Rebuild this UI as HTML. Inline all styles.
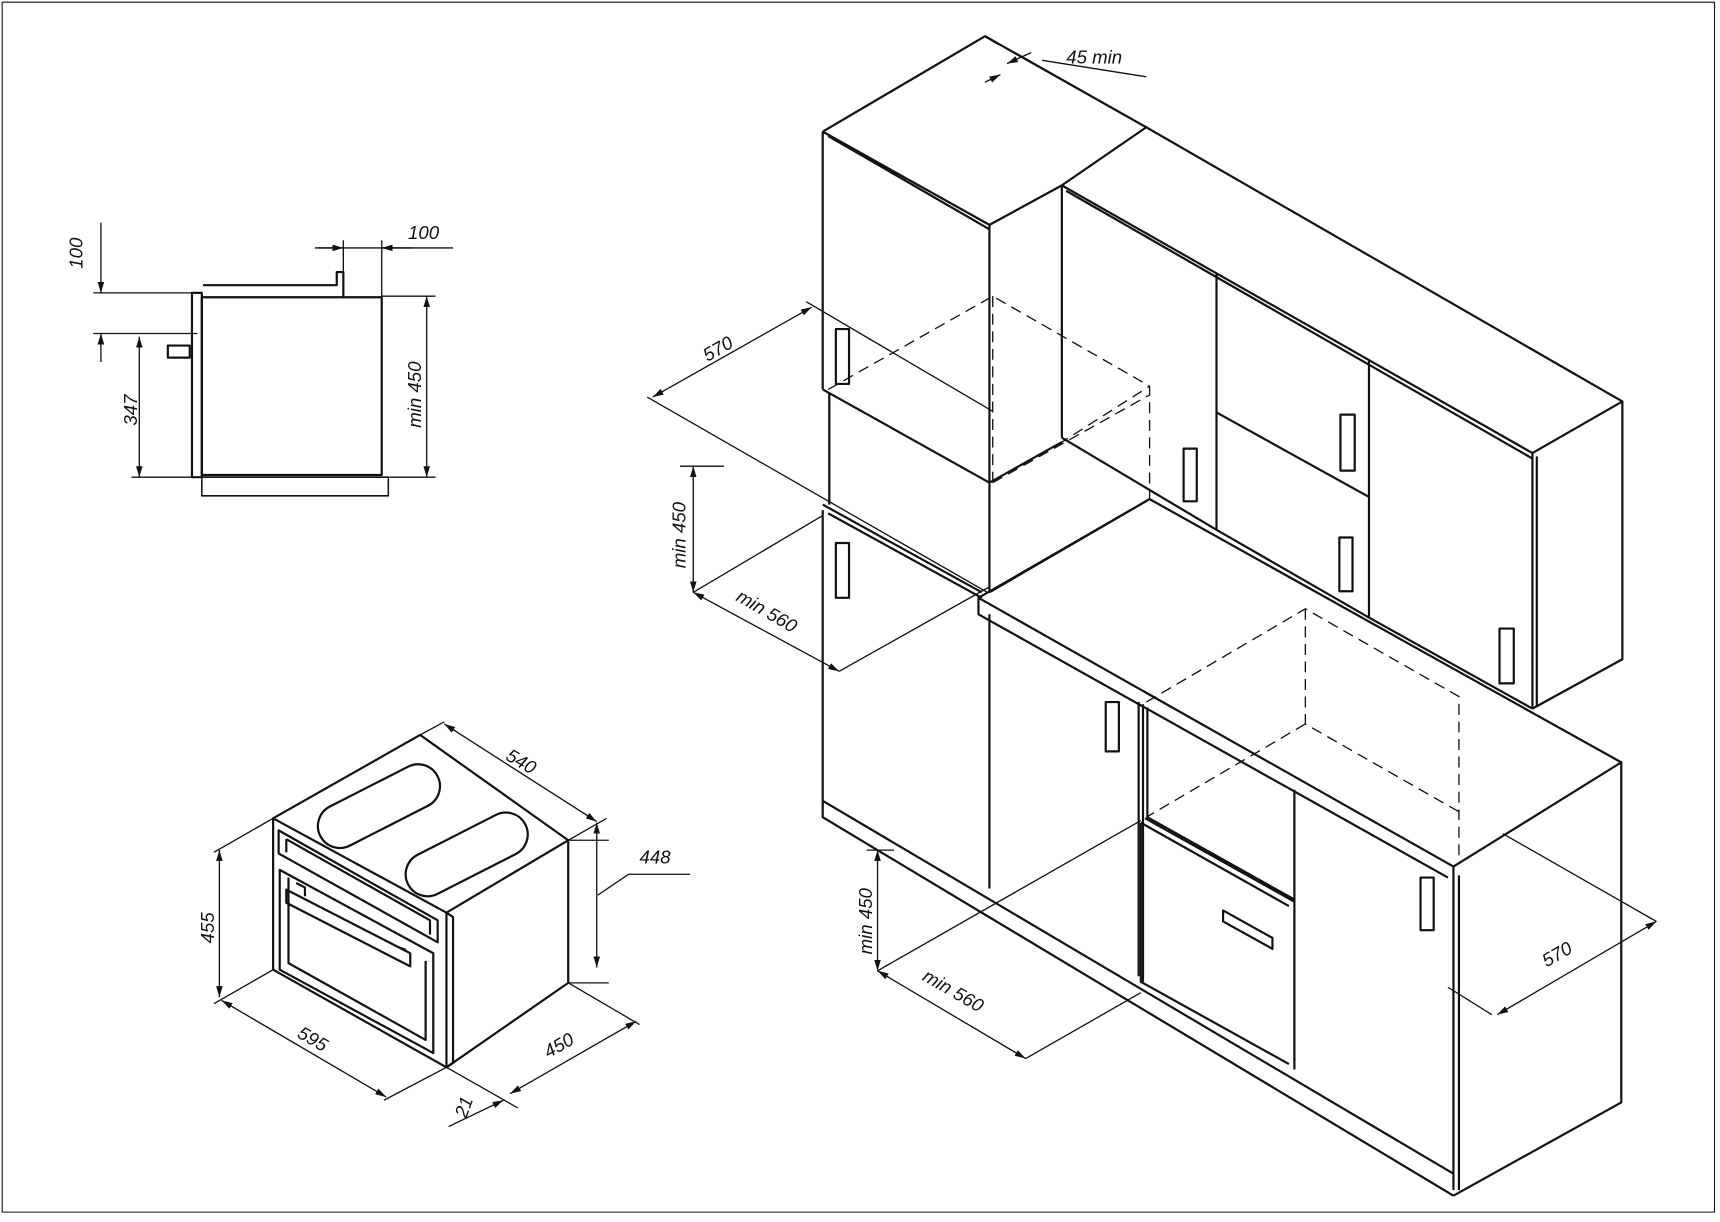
<!DOCTYPE html>
<html><head><meta charset="utf-8"><style>
html,body{margin:0;padding:0;background:#fff}
svg{display:block}
text{font-family:"Liberation Sans",sans-serif;font-style:italic;font-size:17px;fill:#111}
</style></head><body>
<svg width="1720" height="1222" viewBox="0 0 1568 1114" xmlns="http://www.w3.org/2000/svg">
<defs>
<marker id="a" viewBox="0 0 10 6" refX="10" refY="3" markerWidth="10" markerHeight="6" markerUnits="userSpaceOnUse" orient="auto-start-reverse">
<path d="M0 0 L10 3 L0 6 Z" fill="#111"/></marker>
</defs>
<g fill="none" stroke="#111" stroke-width="2" stroke-linejoin="round">
<rect x="2" y="2" width="1561" height="1103" stroke-width="1"/>
<rect x="184" y="271" width="164" height="162"/>
<rect x="175" y="267" width="9" height="168"/>
<rect x="184" y="435" width="170" height="17" stroke-width="1.4"/>
<path d="M185 260 H307 V248 H313 V271"/>
<rect x="153" y="315" width="20" height="11"/>
</g>
<g fill="none" stroke="#111" stroke-width="1.2">
<path d="M85 267 H175 M85 304 H180 M120 435 H175 M348 270 H397 M354 435 H397 M313 219 V248 M348 219 V270 M287 226 H413"/>
<path d="M92 203 V267" marker-end="url(#a)"/><path d="M92 330 V304" marker-end="url(#a)"/>
<path d="M127 307 V435" marker-start="url(#a)" marker-end="url(#a)"/>
<path d="M389 270 V435" marker-start="url(#a)" marker-end="url(#a)"/>
<path d="M290 226 H313" marker-end="url(#a)"/><path d="M375 226 H348" marker-end="url(#a)"/>
</g>
<g fill="none" stroke="#111" stroke-width="2" stroke-linejoin="round">
<path d="M249 746 L383 670 L518 766 L407 832 Z"/>
<path d="M249 746 V884 L407 973 V832"/>
<path d="M407 973 L518 896 V766"/>
<path d="M407 973 L413 969 V836 L407 832"/>
<path d="M254 757 L399 839 V859 L254 778 Z"/>
<path d="M261 765 L392 839 V852 M261 765 V777"/>
<path d="M255 793 L395 869 V960 L255 884 Z"/>
<path d="M263 800 V878 L388 948 V876"/>
<path d="M261 811 L374 869 L374 881 L261 823 Z M270 805 L278 809 V817 M362 863 L370 866"/>
<g transform="rotate(-27 345 734)"><rect x="285" y="715" width="120" height="40" rx="20"/></g>
<g transform="rotate(-27 425 778)"><rect x="365" y="759" width="120" height="40" rx="20"/></g>
</g>
<g fill="none" stroke="#111" stroke-width="1.2">
<path d="M383 670 L405 658 M518 766 L553 746 M518 766 H555 M518 896 H555 M545 816 L573 797 H629"/>
<path d="M405 660 L544 749" marker-start="url(#a)" marker-end="url(#a)"/>
<path d="M544 750 V882" marker-start="url(#a)" marker-end="url(#a)"/>
<path d="M249 746 L195 777 M249 884 L195 915"/>
<path d="M200 775 V909" marker-start="url(#a)" marker-end="url(#a)"/>
<path d="M407 973 L350 1003"/>
<path d="M202 912 L352 1000" marker-start="url(#a)" marker-end="url(#a)"/>
<path d="M518 896 L583 934 M407 973 L472 1010"/>
<path d="M465 997 L580 931" marker-start="url(#a)" marker-end="url(#a)"/>
<path d="M409 1027 L459 1003" marker-end="url(#a)"/>
</g>
<g fill="none" stroke="#111" stroke-width="2" stroke-linejoin="round">
<path d="M750 120 L898 33 L1045 116 M750 120 V355 M750 120 L902 205 V540 M755 124 L902 209"/>
<path d="M898 33 L910 40 M902 205 L968 169"/>
<path d="M750 355 L902 440 M756 358 V460 M750 460 L895 540 M750 465 V730 M755 468 L895 545"/>
<path d="M762 300 h12 v50 h-12 z M762 495 h12 v50 h-12 z"/>
<path d="M968 169 L1045 116 L1479 366 L1397 413 Z M972 174 L1397 418"/>
<path d="M968 169 V399 M1109 249 V483 M1248 329 V563 M1397 413 V646 M1401 416 V644 M1479 366 V601 L1397 646"/>
<path d="M1109 483 L1248 563 L1397 646 M968 399 L1109 483 M1109 376 L1248 453"/>
<path d="M902 440 L968 403 M902 540 L1048 455"/>
<path d="M1079 409 h12 v48 h-12 z M1222 378 h13 v51 h-13 z M1221 490 h12 v49 h-12 z M1367 573 h13 v50 h-13 z"/>
<path d="M892 545 L1048 455 L1478 695 L1325 790 Z"/>
<path d="M892 545 V560 L1320 800 M1325 790 V1085 M1478 695 V1005 L1325 1090 M1330 798 V1085"/>
<path d="M902 560 V810 M1038 640 V890 M1042 642 V895 M1180 720 V975 M1046 645 V745 L1180 820"/>
<path d="M750 730 L1325 1070 M750 730 V745 L800 775 M800 775 L1325 1090"/>
<path d="M1040 750 V895 L1175 970 M1040 750 L1175 826 M1044 746 L1180 822"/>
<path d="M1008 640 h12 v45 h-12 z M1295 800 h12 v48 h-12 z"/>
<path d="M1115 830 L1160 855 L1160 865 L1115 840 Z"/>
</g>
<g fill="none" stroke="#111" stroke-width="1.2">
<path d="M590 362 L900 540 M735 275 L905 375 M620 425 H660 M765 612 L902 535 M790 775 H815 M935 965 L1040 905 M1360 925 L1320 900 M1510 840 L1370 760 M950 55 L1045 70 M910 40 L1030 108"/>
<path d="M632 540 L750 470"/>
<path d="M800 885 L1040 748"/>
<path d="M595 362 L740 280" marker-start="url(#a)" marker-end="url(#a)"/>
<path d="M632 425 V540" marker-start="url(#a)" marker-end="url(#a)"/>
<path d="M632 540 L765 612" marker-start="url(#a)" marker-end="url(#a)"/>
<path d="M800 775 V885" marker-start="url(#a)" marker-end="url(#a)"/>
<path d="M800 885 L935 965" marker-start="url(#a)" marker-end="url(#a)"/>
<path d="M1365 925 L1510 840" marker-start="url(#a)" marker-end="url(#a)"/>
<path d="M940 48 L918 58" marker-end="url(#a)"/><path d="M898 75 L912 68" marker-end="url(#a)"/>
</g>
<g fill="none" stroke="#111" stroke-width="1.2" stroke-dasharray="10,6">
<path d="M755 355 L905 270 L1048 352 L1048 455 M905 270 V440 M905 440 L1048 360 M965 405 L1048 352"/>
<path d="M1045 640 L1190 555 L1330 635 L1330 780 M1190 555 V660 L1330 740 M1190 660 L1045 745"/>
</g>
<text x="372" y="218">100</text>
<text transform="translate(75 245) rotate(-90)">100</text>
<text transform="translate(125 388) rotate(-90)">347</text>
<text transform="translate(384 390) rotate(-90)">min 450</text>
<text transform="translate(645 330) rotate(-30)">570</text>
<text transform="translate(625 518) rotate(-90)">min 450</text>
<text transform="translate(670 547) rotate(30)">min 560</text>
<text transform="translate(795 870) rotate(-90)">min 450</text>
<text transform="translate(840 893) rotate(30)">min 560</text>
<text transform="translate(1410 882) rotate(-30)">570</text>
<text x="972" y="58">45 min</text>
<text transform="translate(460 692) rotate(30)">540</text>
<text x="583" y="787">448</text>
<text transform="translate(195 860) rotate(-90)">455</text>
<text transform="translate(270 945) rotate(30)">595</text>
<text transform="translate(500 965) rotate(-30)">450</text>
<text transform="translate(425 1020) rotate(-70)">21</text>
</svg>
</body></html>
